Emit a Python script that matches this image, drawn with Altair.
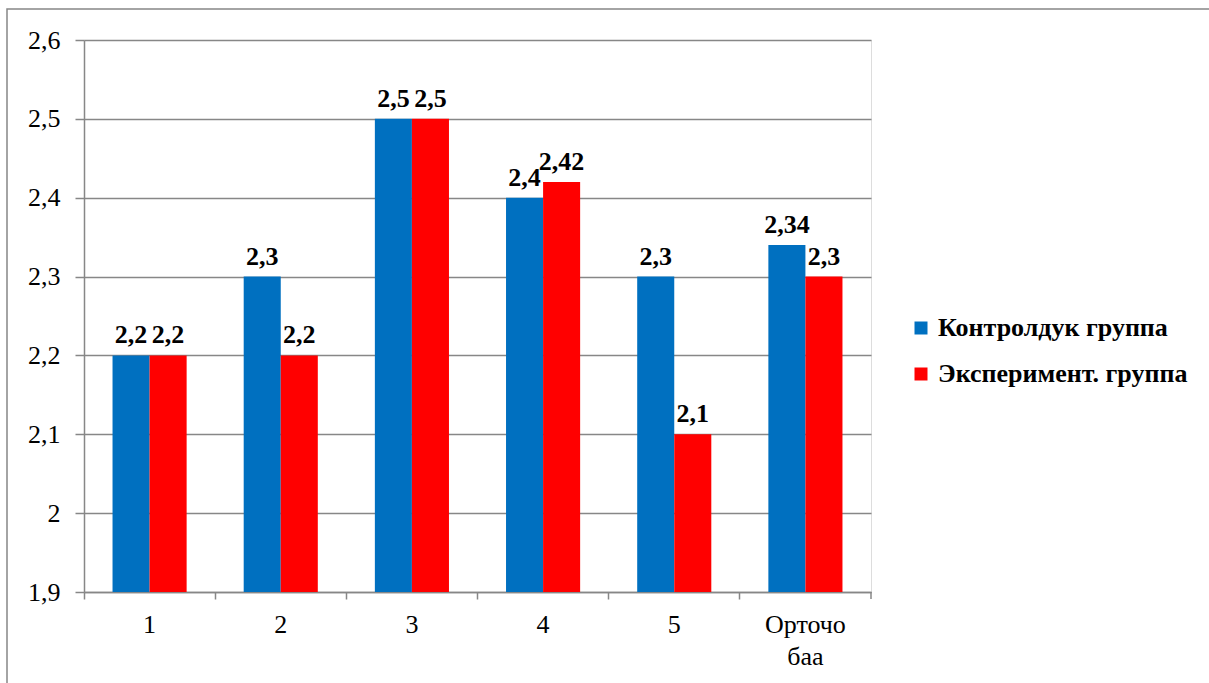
import altair as alt
import pandas as pd

categories = ["1", "2", "3", "4", "5", "Орточо баа"]
control = [2.2, 2.3, 2.5, 2.4, 2.3, 2.34]
experiment = [2.2, 2.2, 2.5, 2.42, 2.1, 2.3]
control_labels = ["2,2", "2,3", "2,5", "2,4", "2,3", "2,34"]
experiment_labels = ["2,2", "2,2", "2,5", "2,42", "2,1", "2,3"]
series = ["Контролдук группа", "Эксперимент. группа"]
colors = ["#0070C0", "#FF0000"]
y_ticks = [1.9, 2.0, 2.1, 2.2, 2.3, 2.4, 2.5, 2.6]
baseline = 1.9

rows = []
for i, c in enumerate(categories):
    rows.append({"cat": c, "group": series[0], "value": control[i], "label": control_labels[i]})
    rows.append({"cat": c, "group": series[1], "value": experiment[i], "label": experiment_labels[i]})
df = pd.DataFrame(rows)
df["base"] = baseline

FONT = "Liberation Serif"
GRAY = "#878787"

x_enc = alt.X("cat:N", sort=categories, title=None,
              scale=alt.Scale(paddingInner=0, paddingOuter=0),
              axis=alt.Axis(labelAngle=0, labelFont=FONT, labelFontSize=26, labelColor="black",
                            domainColor=GRAY, domainWidth=1.5, tickColor=GRAY, tickWidth=1.5,
                            tickSize=7, bandPosition=0, labelPadding=12, labelLineHeight=32,
                            labelExpr="split(datum.label, ' ')"))
xoff = alt.XOffset("group:N", sort=series,
                   scale=alt.Scale(paddingInner=0, paddingOuter=0.77))
y_scale = alt.Scale(domain=[1.9, 2.6], zero=False, nice=False)

bars = alt.Chart(df).mark_bar().encode(
    x=x_enc,
    xOffset=xoff,
    y=alt.Y("value:Q", scale=y_scale, title=None,
            axis=alt.Axis(values=y_ticks, labelFont=FONT, labelFontSize=26, labelColor="black",
                          labelExpr="replace(format(datum.value, '~g'), '.', ',')",
                          domainColor=GRAY, domainWidth=1.5, tickColor=GRAY, tickWidth=1.5,
                          tickSize=9, labelPadding=15, grid=True, gridColor=GRAY, gridWidth=1.5)),
    y2="base:Q",
    color=alt.Color("group:N", sort=series, title=None,
                    scale=alt.Scale(domain=series, range=colors),
                    legend=alt.Legend(orient="none", legendX=824, legendY=275,
                                      symbolType="square", symbolSize=169, symbolStrokeWidth=0,
                                      labelFont=FONT, labelFontSize=26, labelFontWeight="bold",
                                      labelColor="black", labelOffset=4, rowPadding=20,
                                      labelLimit=400)),
)

texts = alt.Chart(df).mark_text(baseline="alphabetic", dy=-12, font=FONT, fontSize=26,
                                fontWeight="bold", color="black").encode(
    x=alt.X("cat:N", sort=categories),
    xOffset=alt.XOffset("group:N", sort=series),
    y=alt.Y("value:Q", scale=y_scale),
    text="label:N",
)

frame = alt.Chart(pd.DataFrame({"a": [0]})).mark_rect(
    fill="transparent", stroke=GRAY, strokeWidth=1.5
).encode(x=alt.value(-77), x2=alt.value(1400), y=alt.value(-31), y2=alt.value(800))

end_tick = alt.Chart(pd.DataFrame({"a": [0]})).mark_rule(color=GRAY, strokeWidth=1.5).encode(
    x=alt.value(787), y=alt.value(552), y2=alt.value(559))

chart = alt.layer(frame, bars, texts, end_tick).properties(
    width=787, height=552,
    autosize=alt.AutoSizeParams(type="none"),
    padding={"left": 84, "top": 40, "right": 338, "bottom": 91},
).configure_view(stroke=None).configure(background="white")

chart.save("out.html", embed_options={"renderer": "svg", "actions": False})
